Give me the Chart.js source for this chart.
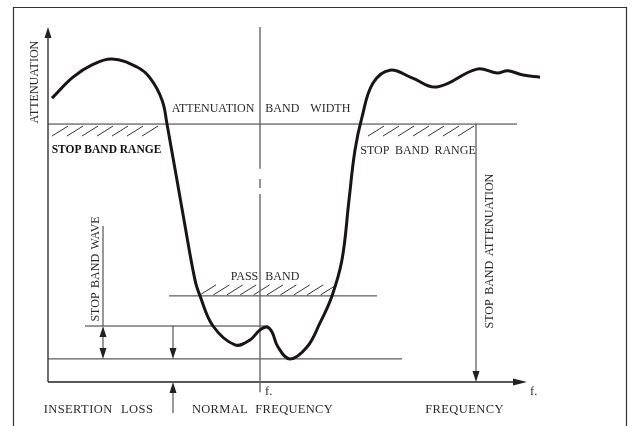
<!DOCTYPE html>
<html>
<head>
<meta charset="utf-8">
<script src="https://cdn.jsdelivr.net/npm/chart.js@4/dist/chart.umd.min.js"></script>
<style>
  html, body { margin: 0; padding: 0; background: #fff; }
  #wrap { width: 632px; height: 426px; }
</style>
</head>
<body>
<div id="wrap"><canvas id="filterChart"></canvas></div>
<script>
// attenuation curve of the filter (frequency / attenuation, arbitrary units)
var freq  = [0.8, 5.0, 8.8, 12.8, 17.8, 20.4, 22.8, 23.8, 27.2, 29.4, 30.4, 33.0, 37.4, 40.4, 42.4, 43.8, 44.8,
             46.0, 48.4, 51.8, 54.4, 56.8, 58.8, 60.2, 61.4, 62.8, 65.0, 68.4, 72.8, 77.8, 85.8, 89.8, 92.0, 95.0, 98.4];
var atten = [81.1, 87.1, 90.6, 92.3, 90.0, 86.9, 80.6, 73.7, 46.3, 29.1, 24.6, 16.0, 10.6, 12.0, 14.9, 15.7, 14.3,
             10.0, 6.6, 10.0, 16.9, 24.6, 34.9, 52.0, 66.3, 75.7, 85.4, 89.1, 86.9, 84.3, 89.4, 88.3, 88.9, 87.7, 87.1];

// reference levels
var stopBandLevel  = 73.7;
var passBandLevel  = 24.6;
var rippleLevel    = 16.0;
var insertionLevel = 6.6;
var centerFreq     = 42.4;
var stopAttenFreq  = 85.6;

var labels = {
  yTitle: "ATTENUATION",
  bandWidth: "ATTENUATION BAND WIDTH",
  stopRange: "STOP BAND RANGE",
  passBand: "PASS BAND",
  wave: "STOP BAND WAVE",
  stopAtten: "STOP BAND ATTENUATION",
  insertion: "INSERTION LOSS",
  normal: "NORMAL FREQUENCY",
  frequency: "FREQUENCY",
  f: "f."
};

var points = freq.map(function(f, i) { return { x: f, y: atten[i] }; });

var serif = '"Liberation Serif", "DejaVu Serif", serif';

function arrowHead(ctx, x, y, dir) {
  // dir: 'up', 'down', 'right'
  var l = 11, w = 3.5;
  ctx.beginPath();
  if (dir === 'up') { ctx.moveTo(x, y); ctx.lineTo(x - w, y + l); ctx.lineTo(x + w, y + l); }
  else if (dir === 'down') { ctx.moveTo(x, y); ctx.lineTo(x - w, y - l); ctx.lineTo(x + w, y - l); }
  else { ctx.moveTo(x, y); ctx.lineTo(x - l - 3, y - w); ctx.lineTo(x - l - 3, y + w); }
  ctx.closePath();
  ctx.fill();
}

function line(ctx, x1, y1, x2, y2) {
  ctx.beginPath();
  ctx.moveTo(x1, y1);
  ctx.lineTo(x2, y2);
  ctx.stroke();
}

function hatch(ctx, x0, x1, y, step, above) {
  for (var x = x0; x < x1 - 4; x += step) {
    if (above) line(ctx, x, y - 1, x + 16, y - 11);
    else line(ctx, x, y + 12, x + 16, y + 2);
  }
}

function text(ctx, str, x, y, opts) {
  opts = opts || {};
  ctx.save();
  ctx.font = (opts.bold ? 'bold ' : '') + (opts.size || 12) + 'px ' + serif;
  ctx.fillStyle = opts.color || '#2a2a2a';
  ctx.textAlign = opts.align || 'center';
  ctx.textBaseline = 'middle';
  if ('wordSpacing' in ctx) ctx.wordSpacing = (opts.ws == null ? 5 : opts.ws) + 'px';
  if ('letterSpacing' in ctx) ctx.letterSpacing = (opts.ls || 0) + 'px';
  ctx.translate(x, y);
  if (opts.rotate) ctx.rotate(-Math.PI / 2);
  ctx.fillText(str, 0, 0);
  ctx.restore();
}

var diagram = {
  id: 'diagram',
  beforeDatasetsDraw: function(chart) {
    var ctx = chart.ctx;
    var X = function(v) { return chart.scales.x.getPixelForValue(v); };
    var Y = function(v) { return chart.scales.y.getPixelForValue(v); };
    ctx.save();

    // outer frame
    ctx.strokeStyle = '#333';
    ctx.lineWidth = 1.2;
    ctx.beginPath();
    ctx.moveTo(13.5, chart.height);
    ctx.lineTo(13.5, 7.5);
    ctx.lineTo(626.5, 7.5);
    ctx.lineTo(626.5, chart.height);
    ctx.stroke();

    // axes
    ctx.strokeStyle = '#222';
    ctx.fillStyle = '#222';
    ctx.lineWidth = 1.3;
    line(ctx, X(0), Y(0), X(0), Y(101.4) + 4);
    arrowHead(ctx, X(0), Y(101.4), 'up');
    line(ctx, X(0), Y(0), X(95.8) - 6, Y(0));
    arrowHead(ctx, X(95.8), Y(0), 'right');

    ctx.lineWidth = 1;
    ctx.strokeStyle = '#333';
    // stop band level
    line(ctx, X(0), Y(stopBandLevel), X(93.8), Y(stopBandLevel));
    hatch(ctx, X(0.8), X(22.2), Y(stopBandLevel), 15, false);
    hatch(ctx, X(64.0), X(85.0), Y(stopBandLevel), 15, false);

    // stop band attenuation arrow
    line(ctx, X(stopAttenFreq), Y(stopBandLevel), X(stopAttenFreq), Y(0) - 6);
    arrowHead(ctx, X(stopAttenFreq), Y(0), 'down');

    // pass band level
    line(ctx, X(24.2), Y(passBandLevel), X(65.8), Y(passBandLevel));
    hatch(ctx, X(30.4), X(57.6), Y(passBandLevel), 13.4, true);

    // ripple and insertion levels
    line(ctx, X(7.4), Y(rippleLevel), X(44.0), Y(rippleLevel));
    line(ctx, X(0), Y(insertionLevel), X(70.8), Y(insertionLevel));

    // stop band wave marker: label rule + double arrow
    line(ctx, X(11.0), Y(44.6), X(11.0), Y(rippleLevel));
    line(ctx, X(11.0), Y(rippleLevel) + 6, X(11.0), Y(insertionLevel) - 6);
    arrowHead(ctx, X(11.0), Y(rippleLevel), 'up');
    arrowHead(ctx, X(11.0), Y(insertionLevel), 'down');
    line(ctx, X(25.0), Y(rippleLevel), X(25.0), Y(insertionLevel) - 6);
    arrowHead(ctx, X(25.0), Y(insertionLevel), 'down');

    // insertion loss arrow
    line(ctx, X(25.0), Y(-8.9), X(25.0), Y(0) + 6);
    arrowHead(ctx, X(25.0), Y(0), 'up');

    // centre frequency line, broken near the middle
    ctx.strokeStyle = '#666';
    ctx.lineWidth = 1.4;
    line(ctx, X(centerFreq), Y(101.4), X(centerFreq), Y(60.9));
    line(ctx, X(centerFreq), Y(58.0), X(centerFreq), Y(55.4));
    line(ctx, X(centerFreq), Y(53.7), X(centerFreq), Y(-2.9));

    // texts
    text(ctx, labels.yTitle, X(-2.6), Y(85.7), { rotate: true });
    text(ctx, labels.bandWidth, X(42.6), Y(78.0), { ws: 8 });
    text(ctx, labels.stopRange, X(11.7), Y(66.3), { bold: true, ws: 0, size: 11.5, color: '#111' });
    text(ctx, labels.stopRange, X(74.0), Y(66.0), { ws: 2.5 });
    text(ctx, labels.passBand, X(43.4), Y(30.0), { ws: 4 });
    text(ctx, labels.wave, X(9.6), Y(32.3), { rotate: true, ws: 1.5 });
    text(ctx, labels.stopAtten, X(88.4), Y(37.4), { rotate: true, ws: 1.5 });
    text(ctx, labels.insertion, X(10.1), Y(-8.0), { size: 12.5, ws: 5, ls: 0.4 });
    text(ctx, labels.normal, X(42.9), Y(-8.0), { size: 12.5, ws: 4, ls: 0.3 });
    text(ctx, labels.frequency, X(83.3), Y(-8.0), { size: 12.5, ls: 0.4 });
    text(ctx, labels.f, X(43.4), Y(-2.9), { align: 'left', size: 12.5 });
    text(ctx, labels.f, X(96.4), Y(-2.9), { align: 'left', size: 12.5 });

    ctx.restore();
  }
};

new Chart(document.getElementById('filterChart'), {
  type: 'line',
  data: {
    datasets: [{
      data: points,
      borderColor: '#1a1414',
      borderWidth: 3,
      pointRadius: 0,
      tension: 0.4,
      fill: false
    }]
  },
  options: {
    responsive: true,
    maintainAspectRatio: false,
    animation: false,
    layout: { padding: { left: 48, right: 84, top: 32, bottom: 44 } },
    plugins: { legend: { display: false }, tooltip: { enabled: false } },
    scales: {
      x: { type: 'linear', min: 0, max: 100, display: false },
      y: { min: 0, max: 100, display: false }
    }
  },
  plugins: [diagram]
});
</script>
</body>
</html>
